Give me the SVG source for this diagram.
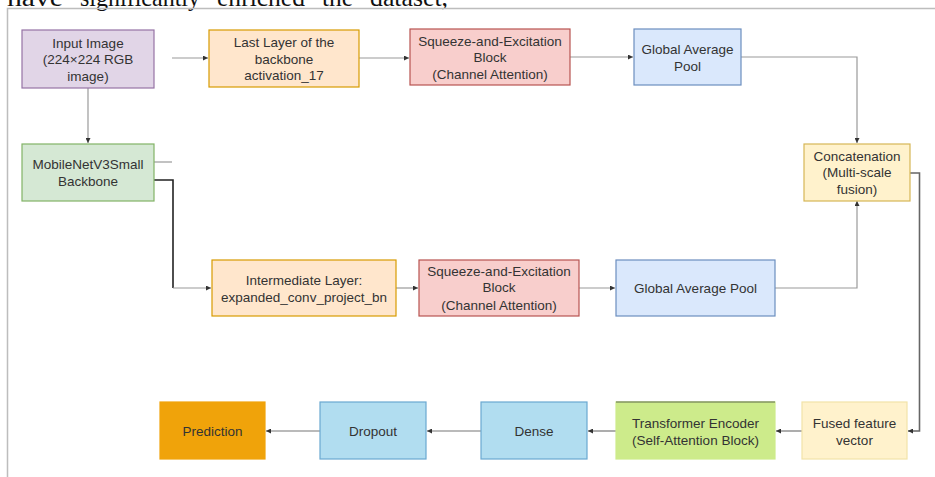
<svg xmlns="http://www.w3.org/2000/svg" width="935" height="477" viewBox="0 0 935 477">
<style>
.bg{fill:#ffffff}
.frame{fill:none;stroke:#bdbdbd;stroke-width:1.5}
.top{font-family:"Liberation Serif","Times New Roman",serif;font-size:25px;fill:#111}
.n rect{stroke-width:1.2}
.n text{font-family:"Liberation Sans",Arial,sans-serif;font-size:13.5px;fill:#333;text-anchor:middle}
.c{fill:none;stroke:#9a9a9a;stroke-width:1.2}
.cd{fill:none;stroke:#777;stroke-width:1.2}
.ck{fill:none;stroke:#222;stroke-width:1.6}
.cg{fill:none;stroke:#666;stroke-width:1.6}
</style>
<defs>
<marker id="ah" viewBox="0 0 6 6" refX="6" refY="3" markerWidth="5" markerHeight="5" markerUnits="userSpaceOnUse" orient="auto">
<path d="M0,0 L6,3 L0,6 z" fill="#333"/>
</marker>
</defs>
<rect class="bg" x="0" y="0" width="935" height="477"/>
<g id="toptext">
<text class="top" x="7" y="5.5" textLength="56" lengthAdjust="spacingAndGlyphs">have</text>
<text class="top" x="80" y="5.5" textLength="120" lengthAdjust="spacingAndGlyphs">significantly</text>
<text class="top" x="217" y="5.5" textLength="88" lengthAdjust="spacingAndGlyphs">enriched</text>
<text class="top" x="322" y="5.5" textLength="31" lengthAdjust="spacingAndGlyphs">the</text>
<text class="top" x="370" y="5.5" textLength="78" lengthAdjust="spacingAndGlyphs">dataset,</text>
</g>
<path class="frame" d="M7.5,477 V8.5 H935"/>

<g id="connectors">
<path class="c" d="M172,58 H208" marker-end="url(#ah)"/>
<path class="c" d="M359,58 H409" marker-end="url(#ah)"/>
<path class="c" d="M570,57 H633" marker-end="url(#ah)"/>
<path class="c" d="M741,57 H857 V143" marker-end="url(#ah)"/>
<path class="c" d="M88,88 V143" marker-end="url(#ah)"/>
<path class="c" d="M154,162 H172"/>
<path class="ck" d="M154,180 H173 V288"/>
<path class="c" d="M173,288 H211" marker-end="url(#ah)"/>
<path class="c" d="M396,288 H418" marker-end="url(#ah)"/>
<path class="c" d="M579,288 H615" marker-end="url(#ah)"/>
<path class="c" d="M775,288 H857 V201" marker-end="url(#ah)"/>
<path class="cg" d="M910,173 H919.5 V431 H908" marker-end="url(#ah)"/>
<path class="cd" d="M802,431 H776" marker-end="url(#ah)"/>
<path class="cd" d="M616,431 H588" marker-end="url(#ah)"/>
<path class="cd" d="M481,431 H427" marker-end="url(#ah)"/>
<path class="cd" d="M320,431 H266" marker-end="url(#ah)"/>
</g>

<g id="input" class="n">
<rect x="22" y="30" width="132" height="58" fill="#e1d5e7" stroke="#9673a6"/>
<text x="88" y="47.5">Input Image</text>
<text x="88" y="64">(224×224 RGB</text>
<text x="88" y="80.5">image)</text>
</g>
<g id="lastlayer" class="n">
<rect x="209" y="30" width="150" height="57" fill="#ffe6cc" stroke="#d79b00"/>
<text x="284" y="47">Last Layer of the</text>
<text x="284" y="63.5">backbone</text>
<text x="284" y="80">activation_17</text>
</g>
<g id="se_top" class="n">
<rect x="410" y="29" width="160" height="56" fill="#f8cecc" stroke="#b85450"/>
<text x="490" y="46">Squeeze-and-Excitation</text>
<text x="490" y="62">Block</text>
<text x="490" y="78.5">(Channel Attention)</text>
</g>
<g id="gap_top" class="n">
<rect x="634" y="29" width="107" height="56" fill="#dae8fc" stroke="#6c8ebf"/>
<text x="687.5" y="54">Global Average</text>
<text x="687.5" y="70.5">Pool</text>
</g>
<g id="concat" class="n">
<rect x="804" y="144" width="106" height="57" fill="#fff2cc" stroke="#d6b656"/>
<text x="857" y="160.5">Concatenation</text>
<text x="857" y="177">(Multi-scale</text>
<text x="857" y="194">fusion)</text>
</g>
<g id="mobilenet" class="n">
<rect x="22" y="144" width="132" height="57" fill="#d5e8d4" stroke="#82b366"/>
<text x="88" y="169">MobileNetV3Small</text>
<text x="88" y="186">Backbone</text>
</g>
<g id="intermediate" class="n">
<rect x="212" y="260" width="184" height="56" fill="#ffe6cc" stroke="#d79b00"/>
<text x="304" y="284.5">Intermediate Layer:</text>
<text x="304" y="301.5">expanded_conv_project_bn</text>
</g>
<g id="se_bottom" class="n">
<rect x="419" y="260" width="160" height="56" fill="#f8cecc" stroke="#b85450"/>
<text x="499" y="276">Squeeze-and-Excitation</text>
<text x="499" y="292">Block</text>
<text x="499" y="310">(Channel Attention)</text>
</g>
<g id="gap_bottom" class="n">
<rect x="616" y="260" width="159" height="56" fill="#dae8fc" stroke="#6c8ebf"/>
<text x="695.5" y="292.5">Global Average Pool</text>
</g>
<g id="prediction" class="n">
<rect x="160" y="402" width="105" height="57" fill="#f0a30a" stroke="#f0a30a"/>
<text x="212.5" y="435.5">Prediction</text>
</g>
<g id="dropout" class="n">
<rect x="320" y="402" width="106" height="57" fill="#b1ddf0" stroke="#6aa9d1"/>
<text x="373" y="435.5">Dropout</text>
</g>
<g id="dense" class="n">
<rect x="481" y="402" width="106" height="57" fill="#b1ddf0" stroke="#6aa9d1"/>
<text x="534" y="435.5">Dense</text>
</g>
<g id="transformer" class="n">
<rect x="616" y="402" width="159" height="57" fill="#cdeb8b" stroke="#cdeb8b"/>
<path d="M616,402 H775" stroke="#5f6b4a" stroke-width="1.2"/>
<text x="695.5" y="427.5">Transformer Encoder</text>
<text x="695.5" y="444.5">(Self-Attention Block)</text>
</g>
<g id="fused" class="n">
<rect x="802" y="402" width="105" height="57" fill="#fff2cc" stroke="#f2e3a8"/>
<text x="854.5" y="427.5">Fused feature</text>
<text x="854.5" y="444.5">vector</text>
</g>
</svg>
